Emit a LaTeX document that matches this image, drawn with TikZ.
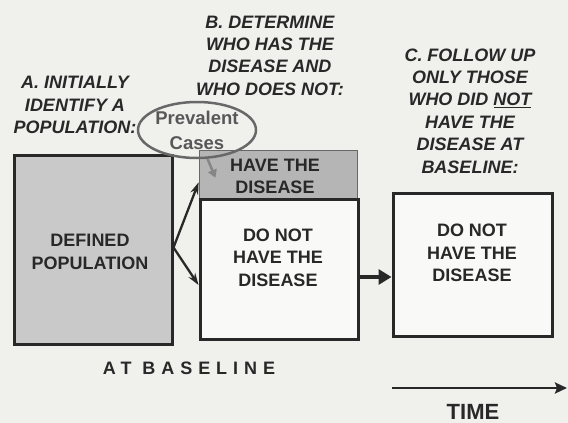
\documentclass[tikz,border=0pt]{standalone}
\usepackage{fontspec}
\setmainfont{Liberation Sans}
\usetikzlibrary{arrows.meta,calc,shapes.geometric}
\definecolor{paper}{HTML}{F0F0ED}
\definecolor{ink}{HTML}{282828}
\definecolor{popfill}{HTML}{C9C9C9}
\definecolor{havefill}{HTML}{B5B5B5}
\definecolor{ovalgray}{HTML}{686868}
\tikzset{
  boxthick/.style={draw=ink, line width=3pt, inner sep=0pt, rectangle},
  heading/.style={font=\fontsize{18}{22.4}\selectfont\bfseries\itshape, text=ink, align=center, inner sep=0pt},
  boxtext/.style={font=\fontsize{18}{22.6}\selectfont\bfseries, text=ink, align=center, inner sep=0pt},
  thinarrow/.style={draw=ink, line width=2.3pt, -{Stealth[length=12pt,width=8pt]}},
}
\begin{document}
\begin{tikzpicture}[x=1pt,y=-1pt]
\fill[paper] (0,0) rectangle (568,423);
\useasboundingbox (0,0) rectangle (568,423);

% boxes
\node[boxthick, fill=popfill, minimum width=158pt, minimum height=189pt] (pop) at (93,249.5) {};
\node[rectangle, draw=ovalgray, line width=0.8pt, fill=havefill, inner sep=0pt, minimum width=158pt, minimum height=48pt] (have) at (278,174) {};
\node[boxthick, fill=white!60!paper, minimum width=158pt, minimum height=140pt] (dont) at (279,269) {};
\node[boxthick, fill=white!60!paper, minimum width=159pt, minimum height=143pt] (right) at (472.5,264.5) {};

% box texts
\node[boxtext] (poptext) at (90,252) {DEFINED\\POPULATION};
\node[boxtext] (havetext) at (275,176.5) {HAVE THE\\DISEASE};
\node[boxtext] (donttext) at (278,257.5) {DO NOT\\HAVE THE\\DISEASE};
\node[boxtext] (righttext) at (472,253) {DO NOT\\HAVE THE\\DISEASE};

% headings
\node[heading] (ha) at (75,105) {A. INITIALLY\\IDENTIFY A\\POPULATION:};
\node[heading] (hb) at (270,55.5) {B. DETERMINE\\WHO HAS THE\\DISEASE AND\\WHO DOES NOT:};
\node[heading] (hc) at (470,111) {C. FOLLOW UP\\ONLY THOSE\\WHO DID \underline{NOT}\\HAVE THE\\DISEASE AT\\BASELINE:};

% prevalent cases ellipse
\node[ellipse, draw=ovalgray, line width=2.5pt, minimum width=118pt, minimum height=56pt, inner sep=0pt,
      font=\fontsize{18.5}{25}\selectfont\bfseries, text=ovalgray!85!black, align=center] (prev) at (197,130) {Prevalent\\Cases};
\draw[draw=ovalgray!80, line width=2.5pt, -{Triangle[length=8pt,width=9pt]}] (prev.-70) -- ++(8,19);

% arrows from population
\coordinate (split) at ($(pop.east)+(0,-2)$);
\coordinate (uptip) at ($(have.south west)+(0,-16)$);
\coordinate (lowtip) at ($(dont.west)+(0,16)$);
\draw[thinarrow] (split) -- (uptip);
\draw[thinarrow] (split) -- (lowtip);

% thick arrow to follow-up box
\coordinate (fa) at ($(dont.east)+(0,8)$);
\draw[draw=ink, line width=4pt, -{Triangle[length=13pt,width=15pt]}] (fa) -- (right.west |- fa);

% bottom labels
\node[font=\fontsize{18}{20}\selectfont\bfseries\addfontfeature{LetterSpace=33}, text=ink, inner sep=0pt] (base) at (189,368) {AT BASELINE};
\coordinate (t0) at (392,388);
\coordinate (t1) at (567,388);
\draw[draw=ink, line width=2.5pt, -{Stealth[length=12pt,width=11pt,inset=2pt]}] (t0) -- (t1);
\node[font=\fontsize{22}{24}\selectfont\bfseries, text=ink, inner sep=0pt] (time) at (473,412) {TIME};
\end{tikzpicture}
\end{document}
